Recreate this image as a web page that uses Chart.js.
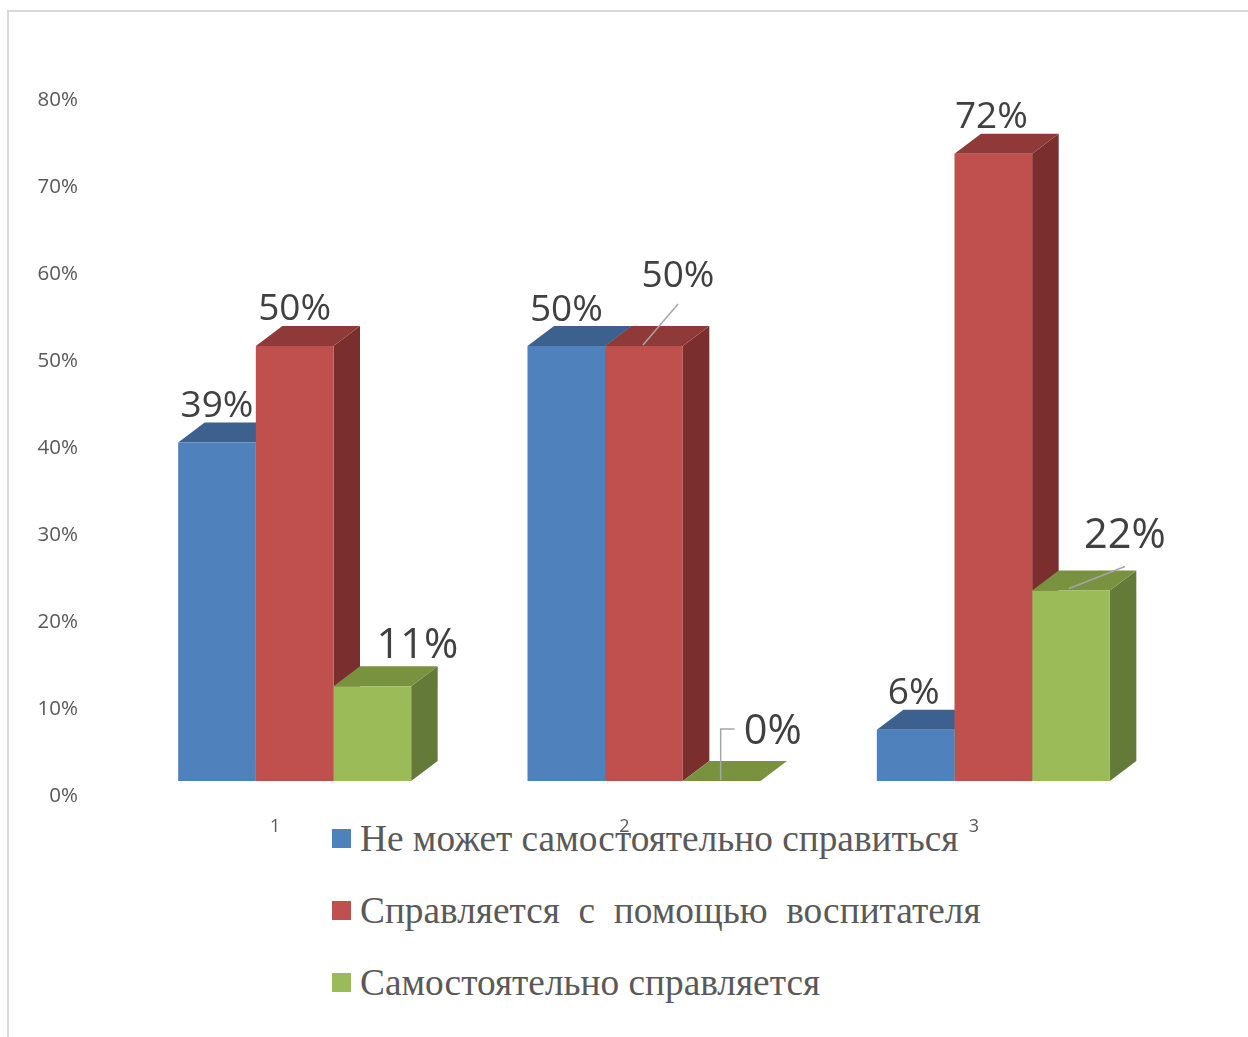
<!DOCTYPE html>
<html lang="ru">
<head>
<meta charset="utf-8">
<title>Диаграмма</title>
<script src="https://cdn.jsdelivr.net/npm/chart.js@4"></script>
<style>
  html, body { margin: 0; background: #fff; }
  #wrap { position: relative; width: 1248px; height: 1037px; overflow: hidden; }
  #frame { position: absolute; left: 7px; top: 10px; right: -5px; bottom: -5px; border: 2px solid #d9d9d9; }
  #legend { position: absolute; left: 332px; top: 803px; font: 37.3px "Liberation Serif", serif; color: #595959; }
  #legend div { height: 72px; line-height: 72px; white-space: pre; }
  #legend i { display: inline-block; width: 19px; height: 19px; margin-right: 9px; vertical-align: 3px; }
  canvas { position: absolute; left: 0; top: 0; }
</style>
</head>
<body>
<div id="wrap">
  <div id="frame"></div>
  <div id="legend"></div>
  <canvas id="myChart" width="1248" height="1037"></canvas>
</div>
<script>
// datos
const categories = ["1", "2", "3"];
const seriesNames = ["Не может самостоятельно справиться", "Справляется  с  помощью  воспитателя", "Самостоятельно справляется"];
const series1 = [38.9, 50, 5.9];
const series2 = [50, 50, 72.1];
const series3 = [10.9, 0, 21.9];
const yTicks = [0, 10, 20, 30, 40, 50, 60, 70, 80];

// colores: frente, tapa, lateral
const frontColors = ["#4f81bd", "#c0504d", "#9bbb59"];
const topColors = ["#3c618f", "#8f3a38", "#789240"];
const sideColors = ["#3c618f", "#7a2f2e", "#647a38"];

// desplazamiento de las etiquetas respecto a la cara frontal de cada barra
const labelDx = [[0, 0, -2], [0, 34, -2], [45, 51, 54]];
const labelDy = [[-36, -36, -36], [-37, -70, -36], [-40, -49, -54]];
const labelSize = [[37, 37, 37], [37, 37, 37], [41.5, 41.5, 41.5]];
// lineas guia [serie, categoria, puntos relativos]
const leaders = [
  [1, 1, [[-1, -1], [34, -42]]],
  [2, 1, [[-1, -1], [-1, -52], [13, -52]]],
  [2, 2, [[-2, -2], [54, -24]]]
];
const depthX = 26.5;
const depthY = 20;

// caras 3D: todas antes de los frentes, en orden de serie
const bars3d = {
  id: "bars3d",
  beforeDatasetsDraw(chart) {
    const ctx = chart.ctx;
    chart.data.datasets.forEach((ds, i) => {
      chart.getDatasetMeta(i).data.forEach((bar) => {
        const half = bar.width / 2;
        const l = bar.x - half, r = bar.x + half;
        const t = bar.y, b = bar.base;
        ctx.fillStyle = sideColors[i];
        poly(ctx, [[r, t], [r + depthX, t - depthY], [r + depthX, b - depthY], [r, b]]);
        ctx.fillStyle = topColors[i];
        poly(ctx, [[l, t], [r, t], [r + depthX, t - depthY], [l + depthX, t - depthY]]);
      });
    });
  },
  afterDatasetsDraw(chart) {
    const ctx = chart.ctx;
    ctx.save();
    ctx.strokeStyle = "#a6a6a6";
    ctx.lineWidth = 1.5;
    leaders.forEach(([s, c, pts]) => {
      const bar = chart.getDatasetMeta(s).data[c];
      ctx.beginPath();
      pts.forEach((p, k) => {
        if (k == 0) ctx.moveTo(bar.x + p[0], bar.y + p[1]);
        else ctx.lineTo(bar.x + p[0], bar.y + p[1]);
      });
      ctx.stroke();
    });
    ctx.fillStyle = "#404040";
    ctx.textAlign = "center";
    ctx.textBaseline = "middle";
    chart.data.datasets.forEach((ds, s) => {
      chart.getDatasetMeta(s).data.forEach((bar, c) => {
        ctx.font = labelSize[s][c] + 'px "Open Sans"';
        ctx.fillText(Math.round(ds.data[c]) + "%", bar.x + labelDx[s][c], bar.y + labelDy[s][c]);
      });
    });
    ctx.restore();
  }
};

function poly(ctx, pts) {
  ctx.beginPath();
  pts.forEach((p, k) => (k == 0 ? ctx.moveTo(p[0], p[1]) : ctx.lineTo(p[0], p[1])));
  ctx.closePath();
  ctx.fill();
}

// leyenda en HTML
document.getElementById("legend").innerHTML = seriesNames
  .map((name, i) => `<div><i style="background:${frontColors[i]}"></i>${name}</div>`)
  .join("");

const allValues = [series1, series2, series3];

new Chart(document.getElementById("myChart"), {
  type: "bar",
  data: {
    labels: categories,
    datasets: allValues.map((values, i) => ({
      label: seriesNames[i],
      data: values,
      backgroundColor: frontColors[i],
      categoryPercentage: 0.667,
      barPercentage: 1
    }))
  },
  options: {
    responsive: false,
    animation: false,
    layout: { padding: { top: 85, right: 80 } },
    plugins: { legend: { display: false }, tooltip: { enabled: false } },
    scales: {
      x: {
        grid: { display: false },
        border: { display: false },
        afterFit: (scale) => { scale.height = 256; },
        ticks: {
          color: "#595959",
          font: { family: "Open Sans", size: 18 },
          padding: 27,
          labelOffset: -19.5,
          maxRotation: 0
        }
      },
      y: {
        min: yTicks[0],
        max: yTicks[yTicks.length - 1],
        grid: { display: false },
        border: { display: false },
        afterFit: (scale) => { scale.width = 120; },
        afterBuildTicks: (scale) => { scale.ticks = yTicks.map((v) => ({ value: v })); },
        ticks: {
          color: "#595959",
          font: { family: "Open Sans", size: 20.5 },
          padding: 34,
          labelOffset: 15,
          callback: (v) => v + "%"
        }
      }
    }
  },
  plugins: [bars3d]
});
</script>
</body>
</html>
